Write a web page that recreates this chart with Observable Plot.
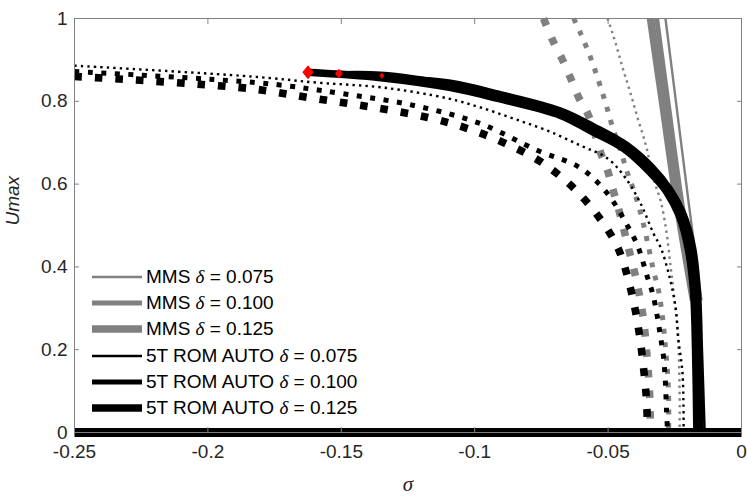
<!DOCTYPE html>
<html><head><meta charset="utf-8">
<script src="https://cdn.jsdelivr.net/npm/d3@7"></script>
<script src="https://cdn.jsdelivr.net/npm/@observablehq/plot@0.6"></script>
<style>
body{margin:0;background:#fff;}
#wrap{position:relative;width:747px;height:497px;font-family:"Liberation Sans",Arial,sans-serif;}
#legend{position:absolute;left:92px;top:264px;}
.row{display:flex;align-items:center;height:26.2px;font-size:19px;color:#000;white-space:nowrap;}
.row svg{margin-right:4px;display:block}
.d{font-family:"Liberation Serif","Times New Roman",serif;font-style:italic;}
</style></head><body><div id="wrap"><div id="legend"></div></div>
<script>
// ---- tick labels ----
const xTicks = [-0.25, -0.2, -0.15, -0.1, -0.05, 0];
const xTickLabels = ["-0.25", "-0.2", "-0.15", "-0.1", "-0.05", "0"];
const yTicks = [0, 0.2, 0.4, 0.6, 0.8, 1];
const yTickLabels = ["0", "0.2", "0.4", "0.6", "0.8", "1"];
const xLabel = "σ";
const yLabel = "Umax";

// ---- legend ----
const legendNames = ["MMS", "MMS", "MMS", "5T ROM AUTO", "5T ROM AUTO", "5T ROM AUTO"];
const legendDeltas = ["0.075", "0.100", "0.125", "0.075", "0.100", "0.125"];

// ---- data: [sigma, Umax] ----
// MMS stable branches (solid grey)
const mmsStable075 = [[-0.0285,1.0],[-0.0242,0.78],[-0.0199,0.560],[-0.0150,0.319]];
const mmsStable100 = [[-0.0318,1.0],[-0.0272,0.78],[-0.0225,0.560],[-0.0165,0.319]];
const mmsStable125 = [[-0.0341,1.0],[-0.0292,0.78],[-0.0243,0.560],[-0.0180,0.319]];
// MMS unstable branches (dotted grey)
const mmsUnstable075 = [[-0.0502,1.0],[-0.0483,0.964],[-0.0464,0.923],[-0.0446,0.882],[-0.0427,0.843],[-0.0408,0.802],[-0.0390,0.761],[-0.0371,0.722],[-0.0356,0.688],[-0.0341,0.645],[-0.0322,0.597],[-0.0303,0.560],[-0.0288,0.512],[-0.0277,0.464],[-0.0266,0.403],[-0.0255,0.343],[-0.0243,0.271],[-0.0236,0.198],[-0.0232,0.101],[-0.0232,0]];
const mmsUnstable100 = [[-0.0629,1.0],[-0.0603,0.964],[-0.0566,0.906],[-0.0536,0.850],[-0.0509,0.795],[-0.0483,0.737],[-0.0453,0.681],[-0.0427,0.626],[-0.0397,0.572],[-0.0371,0.512],[-0.0348,0.447],[-0.0330,0.391],[-0.0311,0.343],[-0.0296,0.278],[-0.0285,0.205],[-0.0277,0.143],[-0.0273,0.077],[-0.0273,0]];
const mmsUnstable125 = [[-0.0742,1.0],[-0.0704,0.942],[-0.0670,0.899],[-0.0640,0.855],[-0.0610,0.809],[-0.0577,0.771],[-0.0551,0.725],[-0.0528,0.676],[-0.0502,0.633],[-0.0483,0.589],[-0.0461,0.541],[-0.0442,0.493],[-0.0423,0.444],[-0.0404,0.396],[-0.0386,0.343],[-0.0367,0.271],[-0.0356,0.198],[-0.0345,0.101],[-0.0341,0]];
// 5T ROM AUTO stable branches (solid black)
const romStable075 = [[-0.1348,0.862],[-0.1090,0.850],[-0.0914,0.824],[-0.0678,0.783],[-0.0551,0.744],[-0.0424,0.698],[-0.0327,0.643],[-0.0263,0.592],[-0.0210,0.529],[-0.0174,0.447],[-0.0156,0.343],[-0.0148,0.198],[-0.0138,0]];
const romStable100 = [[-0.1509,0.867],[-0.1352,0.866],[-0.1090,0.843],[-0.0914,0.818],[-0.0678,0.777],[-0.0554,0.738],[-0.0431,0.693],[-0.0333,0.638],[-0.0270,0.588],[-0.0217,0.527],[-0.0184,0.444],[-0.0167,0.343],[-0.0159,0.198],[-0.0150,0]];
const romStable125 = [[-0.1625,0.870],[-0.1352,0.857],[-0.1090,0.833],[-0.0914,0.807],[-0.0678,0.766],[-0.0566,0.729],[-0.0442,0.686],[-0.0345,0.630],[-0.0281,0.582],[-0.0232,0.522],[-0.0199,0.442],[-0.0180,0.343],[-0.0172,0.198],[-0.0167,0]];
// 5T ROM AUTO unstable branches (dotted black)
const romUnstable075 = [[-0.25,0.886],[-0.1839,0.860],[-0.1588,0.845],[-0.1341,0.833],[-0.1101,0.807],[-0.0978,0.785],[-0.0854,0.758],[-0.0727,0.729],[-0.0603,0.693],[-0.0502,0.662],[-0.0434,0.614],[-0.0378,0.553],[-0.0330,0.481],[-0.0303,0.447],[-0.0273,0.384],[-0.0247,0.302],[-0.0236,0.222],[-0.0221,0.143],[-0.0217,0]];
const romUnstable100 = [[-0.25,0.872],[-0.1783,0.843],[-0.1502,0.819],[-0.1228,0.790],[-0.0978,0.746],[-0.0764,0.681],[-0.0614,0.643],[-0.0539,0.604],[-0.0483,0.560],[-0.0434,0.507],[-0.0390,0.452],[-0.0352,0.374],[-0.0333,0.336],[-0.0315,0.278],[-0.0303,0.229],[-0.0292,0.181],[-0.0285,0.118],[-0.0281,0.053],[-0.0277,0]];
const romUnstable125 = [[-0.25,0.860],[-0.1846,0.831],[-0.1622,0.809],[-0.1397,0.787],[-0.1176,0.761],[-0.1026,0.734],[-0.0891,0.700],[-0.0760,0.657],[-0.0640,0.597],[-0.0539,0.524],[-0.0464,0.447],[-0.0416,0.348],[-0.0386,0.251],[-0.0367,0.155],[-0.0356,0.077],[-0.0352,0]];
// trivial (zero-amplitude) branch
const zeroBranch = [[-0.25,0],[0,0]];
// bifurcation points (red diamonds)
const bifSigma = [-0.1625, -0.1509, -0.1348];
const bifU = [0.870, 0.867, 0.862];
const bifDelta = ["0.125", "0.100", "0.075"];

// ---- styles ----
const GREY = "#808080";
const lw = {"0.075": 2.4, "0.100": 5, "0.125": 7.6};
const dotR = {"0.075": 2.2, "0.100": 3.5, "0.125": 5};

function lineMark(data, color, delta, dotted) {
  const w = lw[delta];
  return Plot.line(data, {
    x: d => d[0], y: d => d[1], stroke: color, strokeWidth: w,
    strokeDasharray: dotted ? `${w},${(1.7 * w).toFixed(2)}` : null,
    strokeLinecap: "butt", strokeLinejoin: "round", curve: "catmull-rom"
  });
}

const diamond = {draw(ctx, size) {
  const a = Math.sqrt(size / 1.6), b = 0.8 * a;
  ctx.moveTo(0, -a); ctx.lineTo(b, 0); ctx.lineTo(0, a); ctx.lineTo(-b, 0); ctx.closePath();
}};
const bif = bifSigma.map((s, i) => ({s, u: bifU[i], d: bifDelta[i]}));

const fontSans = "'Liberation Sans', Arial, sans-serif";
const tickStyle = {tickSize: 5, tickFormat: () => "", label: null, stroke: GREY};
const chart = Plot.plot({
  width: 747, height: 497,
  marginLeft: 74, marginRight: 6, marginTop: 18, marginBottom: 65,
  x: {domain: [-0.25, 0]},
  y: {domain: [0, 1]},
  r: {type: "identity"},
  style: {fontFamily: fontSans, fontSize: "19px", color: "#262626", background: "white", overflow: "visible"},
  marks: [
    lineMark(mmsStable075, GREY, "0.075", false),
    lineMark(mmsStable100, GREY, "0.100", false),
    lineMark(mmsStable125, GREY, "0.125", false),
    lineMark(mmsUnstable075, GREY, "0.075", true),
    lineMark(mmsUnstable100, GREY, "0.100", true),
    lineMark(mmsUnstable125, GREY, "0.125", true),
    lineMark(romUnstable075, "black", "0.075", true),
    lineMark(romUnstable100, "black", "0.100", true),
    lineMark(romUnstable125, "black", "0.125", true),
    lineMark(romStable125, "black", "0.125", false),
    lineMark(romStable100, "black", "0.100", false),
    lineMark(romStable075, "black", "0.075", false),
    Plot.line(zeroBranch, {x: d => d[0], y: d => d[1], stroke: "black", strokeWidth: 9, strokeLinecap: "butt"}),
    Plot.dot(bif, {x: "s", y: "u", r: d => dotR[d.d], symbol: diamond, fill: "red", stroke: "none"}),
    Plot.frame({stroke: GREY, strokeWidth: 1}),
    Plot.axisX(xTicks, {tickSize: 0, tickPadding: 12, tickFormat: d => xTickLabels[xTicks.indexOf(d)], label: null, fontSize: 19, fill: "#262626"}),
    Plot.axisY(yTicks, {tickSize: 0, tickPadding: 7, tickFormat: d => yTickLabels[yTicks.indexOf(d)], label: null, fontSize: 19, fill: "#262626"}),
    Plot.axisX(xTicks, {...tickStyle, dy: -5}),
    Plot.axisX(xTicks, {...tickStyle, anchor: "top", dy: 5}),
    Plot.axisY(yTicks, {...tickStyle, dx: 5}),
    Plot.axisY(yTicks, {...tickStyle, anchor: "right", dx: -5}),
    Plot.text([yLabel], {frameAnchor: "left", dx: -62, rotate: -90, fontStyle: "italic", fontSize: 19, fill: "#262626", text: d => d}),
    Plot.text([xLabel], {frameAnchor: "bottom", dy: 58, fontStyle: "italic", fontSize: 21, fontFamily: "'Liberation Serif', 'Times New Roman', serif", fill: "#262626", text: d => d})
  ]
});
const wrap = document.getElementById("wrap");
wrap.insertBefore(chart, wrap.firstChild);

// legend overlay
const legend = document.getElementById("legend");
legendNames.forEach((name, i) => {
  const delta = legendDeltas[i];
  const color = i < 3 ? GREY : "black";
  const row = document.createElement("div");
  row.className = "row";
  row.innerHTML = `<svg width="50" height="10"><line x1="0" x2="50" y1="5" y2="5" stroke="${color}" stroke-width="${lw[delta]}"/></svg>` +
    `<span>${name} <span class="d">δ</span> = ${delta}</span>`;
  legend.appendChild(row);
});
</script></body></html>
